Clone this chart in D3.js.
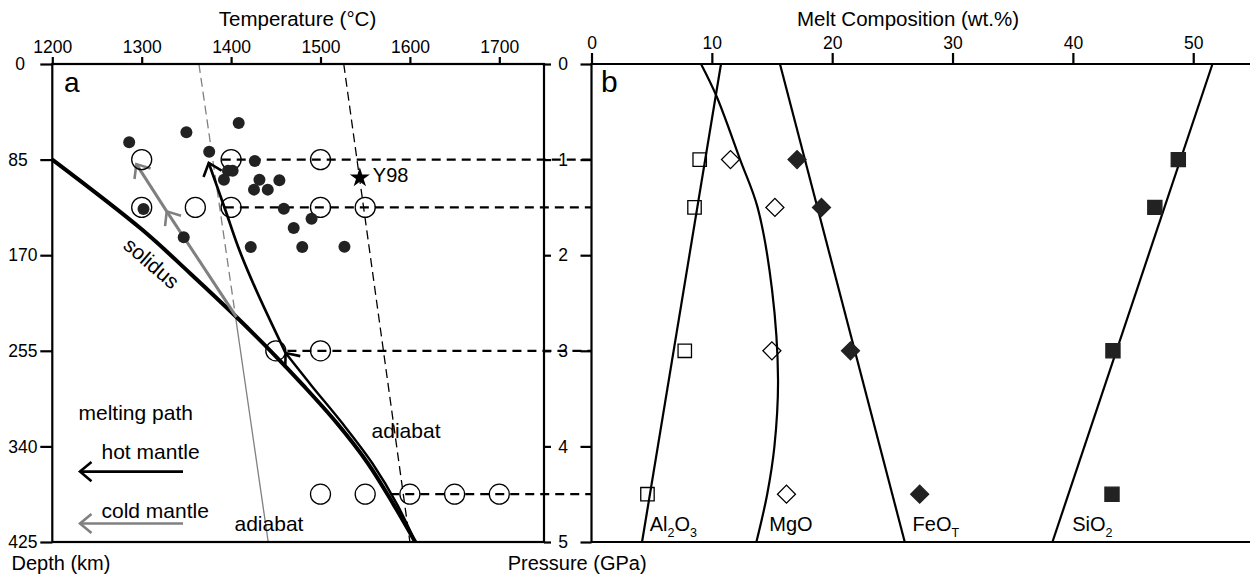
<!DOCTYPE html>
<html>
<head>
<meta charset="utf-8">
<title>Melting paths and melt composition</title>
<script src="https://d3js.org/d3.v7.min.js"></script>
<style>
    body { margin: 0; background: #fff; }
    svg { font-family: "Liberation Sans", Arial, sans-serif; }
    .axis text { font-size: 17.5px; fill: #000; }
    .axis line { stroke: #000; stroke-width: 2.2; }
    .frame { fill: none; stroke: #000; stroke-width: 2.2; }
    .title { font-size: 20.5px; }
    .note { font-size: 21px; }
    .panel { font-size: 28px; }
</style>
</head>
<body>
<svg width="1250" height="575"></svg>
<script>
    // ---- panel a: temperature (°C) vs depth (km) ----
    const tempTicks = [1200, 1300, 1400, 1500, 1600, 1700];
    const depthTicks = [0, 85, 170, 255, 340, 425];
    const pressureTicks = [0, 1, 2, 3, 4, 5];

    // filled dots (sample temperature / depth estimates)
    const dotT = [1286, 1350, 1408.5, 1375.5, 1426.5, 1396.5, 1401.7, 1392, 1431.7, 1454,
                  1425.6, 1441, 1302, 1459, 1490, 1470, 1347, 1422, 1479.6, 1526.8];
    const dotDepth = [69.6, 60.7, 52.5, 78, 86.2, 94.9, 94.9, 103, 103, 103.4,
                      111.7, 111.7, 128.9, 128.6, 137.5, 145.8, 154, 162.7, 162.7, 162.4];

    // experiments (open circles), pressure in GPa
    const expPressure = [1, 1.5, 3, 4.5];
    const expTemps = [
        [1300, 1400, 1500],
        [1300, 1360, 1400, 1500, 1550],
        [1450, 1500],
        [1500, 1550, 1600, 1650, 1700]
    ];
    const isobarStartT = [1389.5, 1393, 1463, 1578];

    const y98 = [1544, 101.1];

    const solidus = [[1200, 85], [1300, 147], [1354, 186], [1406, 225], [1444, 255],
                     [1481, 286], [1518, 319], [1553, 355], [1582, 392], [1606, 425]];
    const hotLower = [[1606, 425], [1586, 392], [1558, 355], [1524, 319], [1490, 286], [1461, 257]];
    const hotUpper = [[1461, 257], [1428, 201], [1409, 165], [1393, 128.5], [1375, 88]];
    const coldPath = [[1406, 225], [1328, 131], [1294, 89]];
    const adiabatCold = [[1364, 0], [1441.5, 425]];
    const adiabatHot = [[1526, 0], [1600, 425]];

    // ---- panel b: melt composition (wt.%) vs pressure (GPa) ----
    const wtTicks = [0, 10, 20, 30, 40, 50];
    const meltPressure = [1, 1.5, 3, 4.5];
    const al2o3 = [8.99, 8.56, 7.75, 4.65];
    const mgo = [11.55, 15.24, 14.99, 16.2];
    const feo = [17.08, 19.11, 21.52, 27.27];
    const sio2 = [48.76, 46.81, 43.33, 43.25];

    const al2o3Model = [[10.76, 0], [4.2, 5]];
    const mgoModel = [[9.1, 0], [10.4, 0.34], [12.35, 1], [13.8, 1.5], [15, 2.36],
                      [15.5, 3.3], [15.2, 4], [14.6, 4.5], [13.7, 5]];
    const feoModel = [[15.66, 0], [26.03, 5]];
    const sio2Model = [[51.6, 0], [38.3, 5]];

    const svg = d3.select("svg");

    const xT = d3.scaleLinear().domain([1200, 1750]).range([52.3, 544]);
    const yD = d3.scaleLinear().domain([0, 425]).range([64, 542]);
    const yP = d3.scaleLinear().domain([0, 5]).range([64, 542]);
    const xW = d3.scaleLinear().domain([0, 55]).range([591.5, 1253.4]);

    const gray = "#808080";
    const dark = "#222";
    const fmt = d3.format("d");

    // chevron arrow heads
    const defs = svg.append("defs");
    [["chevBlack", "#000"], ["chevGray", gray]].forEach(([id, c]) => {
        defs.append("marker")
            .attr("id", id)
            .attr("viewBox", "-14 -12 18 24")
            .attr("markerWidth", 18).attr("markerHeight", 24)
            .attr("refX", 0).attr("refY", 0)
            .attr("markerUnits", "userSpaceOnUse")
            .attr("orient", "auto")
            .style("overflow", "visible")
            .append("path")
            .attr("d", "M-11.5,-9.6L0,0L-11.5,9.6")
            .attr("fill", "none")
            .attr("stroke", c)
            .attr("stroke-width", 2.6);
    });

    const lineA = d3.line().x(d => xT(d[0])).y(d => yD(d[1]));
    const curveA = d3.line().x(d => xT(d[0])).y(d => yD(d[1])).curve(d3.curveCatmullRom.alpha(0.5));
    const curveB = d3.line().x(d => xW(d[0])).y(d => yP(d[1])).curve(d3.curveCatmullRom.alpha(0.5));

    // ---------- panel a ----------
    // cold adiabat: dashed above the solidus, solid below
    const splitDepth = coldPath[0][1];
    const tSplit = d3.interpolateNumber(adiabatCold[0][0], adiabatCold[1][0])(splitDepth / 425);
    svg.append("path")
        .attr("d", lineA([adiabatCold[0], [tSplit, splitDepth]]))
        .attr("fill", "none").attr("stroke", gray).attr("stroke-width", 1.3)
        .attr("stroke-dasharray", "9,5");
    svg.append("path")
        .attr("d", lineA([[tSplit, splitDepth], adiabatCold[1]]))
        .attr("fill", "none").attr("stroke", gray).attr("stroke-width", 1.3);

    svg.append("path")
        .attr("d", lineA(adiabatHot))
        .attr("fill", "none").attr("stroke", "#000").attr("stroke-width", 1.3)
        .attr("stroke-dasharray", "9,5");

    // isobars reaching across to panel b
    svg.selectAll(".isobar")
        .data(expPressure)
        .enter().append("line")
        .attr("class", "isobar")
        .attr("x1", (p, i) => xT(isobarStartT[i]))
        .attr("x2", xW(0))
        .attr("y1", p => yP(p))
        .attr("y2", p => yP(p))
        .attr("stroke", "#000").attr("stroke-width", 2.2)
        .attr("stroke-dasharray", "9,6");

    // solidus
    svg.append("path")
        .attr("d", curveA(solidus))
        .attr("fill", "none").attr("stroke", "#000").attr("stroke-width", 4);

    // melting paths
    svg.append("path")
        .attr("d", curveA(hotLower))
        .attr("fill", "none").attr("stroke", "#000").attr("stroke-width", 2.4)
        .attr("marker-end", "url(#chevBlack)");
    svg.append("path")
        .attr("d", curveA(hotUpper))
        .attr("fill", "none").attr("stroke", "#000").attr("stroke-width", 2.7)
        .attr("marker-end", "url(#chevBlack)");
    svg.append("path")
        .attr("d", lineA(coldPath.slice(0, 2)))
        .attr("fill", "none").attr("stroke", gray).attr("stroke-width", 3)
        .attr("marker-end", "url(#chevGray)");
    svg.append("path")
        .attr("d", lineA(coldPath.slice(1)))
        .attr("fill", "none").attr("stroke", gray).attr("stroke-width", 3)
        .attr("marker-end", "url(#chevGray)");

    // open circles
    const openPts = expPressure.flatMap((p, i) => expTemps[i].map(t => [t, p]));
    svg.selectAll(".exp")
        .data(openPts)
        .enter().append("circle")
        .attr("class", "exp")
        .attr("cx", d => xT(d[0]))
        .attr("cy", d => yP(d[1]))
        .attr("r", 10)
        .attr("fill", "none").attr("stroke", "#000").attr("stroke-width", 1.3);

    // filled dots
    svg.selectAll(".dot")
        .data(dotT)
        .enter().append("circle")
        .attr("class", "dot")
        .attr("cx", t => xT(t))
        .attr("cy", (t, i) => yD(dotDepth[i]))
        .attr("r", 6)
        .attr("fill", dark);

    svg.append("path")
        .attr("d", d3.symbol(d3.symbolStar, 124)())
        .attr("transform", `translate(${xT(y98[0])},${yD(y98[1])})`)
        .attr("fill", "#000");
    svg.append("text").attr("class", "note").style("font-size", "20px")
        .attr("x", xT(y98[0]) + 13).attr("y", yD(y98[1]) + 4)
        .text("Y98");

    // frame and axes, panel a
    svg.append("rect").attr("class", "frame")
        .attr("x", xT(1200)).attr("y", yD(0))
        .attr("width", xT(1750) - xT(1200)).attr("height", yD(425) - yD(0));

    const gTop = svg.append("g").attr("class", "axis")
        .attr("transform", `translate(0,${yD(0)})`)
        .call(d3.axisTop(xT).tickValues(tempTicks).tickFormat(fmt)
            .tickSize(7).tickPadding(4).tickSizeOuter(0));
    gTop.select(".domain").remove();

    const gLeft = svg.append("g").attr("class", "axis")
        .attr("transform", `translate(${xT(1200)},0)`)
        .call(d3.axisLeft(yD).tickValues(depthTicks).tickFormat(fmt).tickSize(12).tickSizeOuter(0));
    gLeft.select(".domain").remove();
    gLeft.selectAll("text").attr("text-anchor", "start").attr("x", d => d === 0 ? -37 : -44);

    const gP = svg.append("g").attr("class", "axis")
        .attr("transform", `translate(${xT(1750)},0)`)
        .call(d3.axisRight(yP).tickValues(pressureTicks).tickFormat(fmt).tickSize(7).tickSizeOuter(0));
    gP.select(".domain").remove();
    gP.selectAll("text").attr("text-anchor", "middle").attr("x", 19);

    // ---------- panel b ----------
    [al2o3Model, mgoModel, feoModel, sio2Model].forEach(m => {
        svg.append("path").attr("d", curveB(m))
            .attr("fill", "none").attr("stroke", "#000").attr("stroke-width", 2.2);
    });

    const square = d3.symbol(d3.symbolSquare, 180)();
    const diamond = d3.symbol(d3.symbolSquare, 162)();
    const series = [
        { vals: al2o3, shape: square, rot: 0, filled: false },
        { vals: mgo, shape: diamond, rot: 45, filled: false },
        { vals: feo, shape: diamond, rot: 45, filled: true },
        { vals: sio2, shape: d3.symbol(d3.symbolSquare, 200)(), rot: 0, filled: true }
    ];
    series.forEach(s => {
        svg.selectAll(null)
            .data(s.vals)
            .enter().append("path")
            .attr("d", s.shape)
            .attr("transform", (v, i) => `translate(${xW(v)},${yP(meltPressure[i])}) rotate(${s.rot})`)
            .attr("fill", s.filled ? dark : "none")
            .attr("stroke", s.filled ? dark : "#000")
            .attr("stroke-width", 1.3);
    });

    // oxide labels with subscripts
    const oxideLabels = [
        { w: 4.84, parts: [["Al", 0], ["2", 1], ["O", 0], ["3", 1]] },
        { w: 14.77, parts: [["MgO", 0]] },
        { w: 26.68, parts: [["FeO", 0], ["T", 1]] },
        { w: 39.95, parts: [["SiO", 0], ["2", 1]] }
    ];
    oxideLabels.forEach(l => {
        const t = svg.append("text").style("font-size", "20px")
            .attr("x", xW(l.w)).attr("y", yP(4.88));
        let prev = 0;
        l.parts.forEach(([s, sub]) => {
            t.append("tspan")
                .attr("dy", (sub ? 6 : 0) - (prev ? 6 : 0))
                .style("font-size", sub ? "12.5px" : "20px")
                .text(s);
            prev = sub;
        });
    });

    svg.append("path").attr("class", "frame")
        .attr("d", `M1250,${yP(0)}H${xW(0)}V${yP(5)}H1250`);

    const gW = svg.append("g").attr("class", "axis")
        .attr("transform", `translate(0,${yP(0)})`)
        .call(d3.axisTop(xW).tickValues(wtTicks).tickFormat(fmt)
            .tickSize(11).tickPadding(4).tickSizeOuter(0));
    gW.select(".domain").remove();

    const gPb = svg.append("g").attr("class", "axis")
        .attr("transform", `translate(${xW(0)},0)`)
        .call(d3.axisLeft(yP).tickValues(pressureTicks).tickSize(11).tickFormat("").tickSizeOuter(0));
    gPb.select(".domain").remove();

    // ---------- titles and notes ----------
    svg.append("text").attr("class", "title").attr("text-anchor", "middle")
        .attr("x", 297.5).attr("y", 25.5).text("Temperature (°C)");
    svg.append("text").attr("class", "title").attr("text-anchor", "middle")
        .attr("x", 908).attr("y", 25.5).text("Melt Composition (wt.%)");
    svg.append("text").attr("class", "title").style("font-size", "20px")
        .attr("x", 11.5).attr("y", 570).text("Depth (km)");
    svg.append("text").attr("class", "title").style("font-size", "20px")
        .attr("x", 507.7).attr("y", 570).text("Pressure (GPa)");

    svg.append("text").attr("class", "panel").attr("x", 64).attr("y", 91.5).text("a");
    svg.append("text").attr("class", "panel").style("font-size", "30px").attr("x", 601).attr("y", 91.5).text("b");

    svg.append("text").attr("class", "note")
        .attr("transform", `translate(${xT(1311)},${yD(177)}) rotate(41)`)
        .attr("text-anchor", "middle").attr("dy", "0.35em")
        .text("solidus");
    svg.append("text").attr("class", "note").attr("x", 371.6).attr("y", 438).text("adiabat");
    svg.append("text").attr("class", "note").attr("x", 234.5).attr("y", 531).text("adiabat");

    svg.append("text").attr("class", "note").attr("x", 78.5).attr("y", 420).text("melting path");
    svg.append("text").attr("class", "note").attr("x", 101.5).attr("y", 459).text("hot mantle");
    svg.append("text").attr("class", "note").attr("x", 101.5).attr("y", 518).text("cold mantle");
    svg.append("line").attr("x1", 183).attr("x2", 80).attr("y1", 471.6).attr("y2", 471.6)
        .attr("stroke", "#000").attr("stroke-width", 2.6).attr("marker-end", "url(#chevBlack)");
    svg.append("line").attr("x1", 183).attr("x2", 80).attr("y1", 523.5).attr("y2", 523.5)
        .attr("stroke", gray).attr("stroke-width", 2.6).attr("marker-end", "url(#chevGray)");
</script>
</body>
</html>
